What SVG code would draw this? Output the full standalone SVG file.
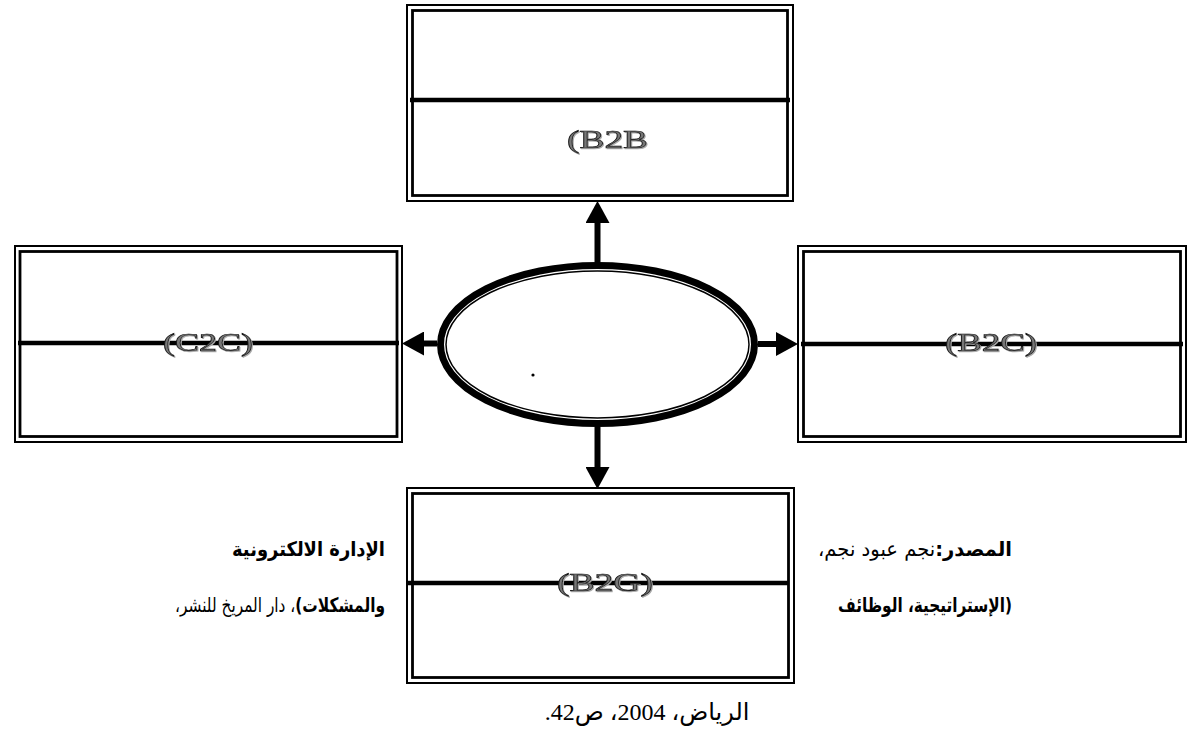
<svg xmlns="http://www.w3.org/2000/svg" width="1188" height="736" viewBox="0 0 1188 736">
<style>
.outer{fill:none;stroke:#000;stroke-width:2}
.inner{fill:none;stroke:#000;stroke-width:2.8}
.mid{stroke:#000;stroke-width:4.5}
.lbl{font-family:"Liberation Serif",serif;font-size:26px;fill:#777;stroke:#111;stroke-width:0.7;text-anchor:middle;filter:url(#sh)}
.conn{stroke:#000;stroke-width:6;fill:none;marker-end:url(#ah)}
.ar{font-family:"DejaVu Sans",sans-serif;font-size:20px;fill:#000}
.arb{font-weight:bold}
</style>
<defs>
<marker id="ah" markerUnits="userSpaceOnUse" markerWidth="24" markerHeight="24" refX="0" refY="12" orient="auto">
<path d="M0,0 L22,12 L0,24 Z" fill="#000"/>
</marker>
<filter id="sh" x="-10%" y="-10%" width="130%" height="130%">
<feDropShadow dx="1" dy="1" stdDeviation="0.3" flood-color="#aaa"/>
</filter>
</defs>
<rect x="0" y="0" width="1188" height="736" fill="#fff"/>

<g id="connectors">
<path class="conn" d="M597.5,262 L597.5,223"/>
<path class="conn" d="M597.5,427 L597.5,467"/>
<path class="conn" d="M437,343.5 L424,343.5"/>
<path class="conn" d="M758,344 L776,344"/>
</g>

<g id="center">
<ellipse cx="597.5" cy="344.5" rx="157" ry="79" fill="#fff" stroke="#000" stroke-width="7"/>
<ellipse cx="597.5" cy="344.5" rx="151.5" ry="73.5" fill="none" stroke="#000" stroke-width="1.5"/>
<circle cx="533" cy="375" r="1.6" fill="#000"/>
</g>

<g id="b2b">
<rect class="outer" x="407" y="5" width="386" height="196"/>
<rect class="inner" x="412.5" y="10.5" width="375" height="185"/>
<line class="mid" x1="410" y1="100" x2="790" y2="100"/>
<text class="lbl" x="607.5" y="148" textLength="81" lengthAdjust="spacingAndGlyphs">(B2B</text>
</g>

<g id="c2c">
<rect class="outer" x="15" y="246" width="387" height="196"/>
<rect class="inner" x="20" y="251.5" width="377" height="185"/>
<line class="mid" x1="18" y1="343" x2="399" y2="343"/>
<text class="lbl" x="208" y="351" textLength="90" lengthAdjust="spacingAndGlyphs">(C2C)</text>
</g>

<g id="b2c">
<rect class="outer" x="798" y="246" width="388" height="196"/>
<rect class="inner" x="803.5" y="251.5" width="377" height="185"/>
<line class="mid" x1="801" y1="344" x2="1183" y2="344"/>
<text class="lbl" x="991" y="351" textLength="92" lengthAdjust="spacingAndGlyphs">(B2C)</text>
</g>

<g id="b2g">
<rect class="outer" x="407" y="488" width="387" height="195"/>
<rect class="inner" x="412.5" y="493.5" width="376" height="184"/>
<line class="mid" x1="407" y1="583" x2="789" y2="583"/>
<text class="lbl" x="605" y="591" textLength="96" lengthAdjust="spacingAndGlyphs">(B2G)</text>
</g>

<g id="source">
<text class="ar" x="1012" y="556" direction="rtl" text-anchor="start" textLength="194" lengthAdjust="spacingAndGlyphs"><tspan class="arb">المصدر:</tspan>نجم عبود نجم،</text>
<text class="ar arb" x="385" y="556" direction="rtl" text-anchor="start" textLength="153" lengthAdjust="spacingAndGlyphs">الإدارة الالكترونية</text>
<text class="ar arb" x="1012" y="612" direction="rtl" text-anchor="start" textLength="174" lengthAdjust="spacingAndGlyphs">(الإستراتيجية، الوظائف</text>
<text class="ar" x="385" y="612" direction="rtl" text-anchor="start" textLength="210" lengthAdjust="spacingAndGlyphs"><tspan class="arb">والمشكلات)</tspan>، دار المريخ للنشر،</text>
<text x="647" y="720" direction="rtl" text-anchor="middle" style="font-family:'Liberation Serif','DejaVu Sans',serif;font-size:24px">الرياض، 2004، ص42.</text>
</g>
</svg>
